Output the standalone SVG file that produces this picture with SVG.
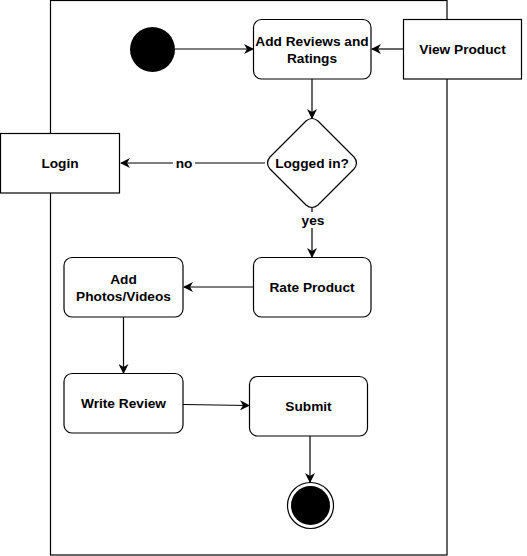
<svg xmlns="http://www.w3.org/2000/svg" width="527" height="556" viewBox="0 0 527 556">
<defs>
<style>
.box{fill:#fff;stroke:#000;stroke-width:1.2}
.t{font-family:"Liberation Sans",Arial,sans-serif;font-weight:bold;font-size:13.7px;text-anchor:middle;dominant-baseline:central;fill:#000}
.e{fill:none;stroke:#000;stroke-width:1.2}
</style>
<marker id="a" viewBox="0 0 10 10" refX="9" refY="5" markerWidth="10" markerHeight="10" markerUnits="userSpaceOnUse" orient="auto">
<path d="M0,0 L10,5 L0,10 L3,5 Z" fill="#000"/>
</marker>
</defs>
<rect width="527" height="556" fill="#fff"/>
<rect id="frame" x="50.5" y="0.5" width="396.5" height="554.5" fill="none" stroke="#000" stroke-width="1.2"/>
<g id="connectors">
<line class="e" x1="175" y1="49" x2="253" y2="49" marker-end="url(#a)"/>
<line class="e" x1="403" y1="49" x2="372" y2="49" marker-end="url(#a)"/>
<line class="e" x1="312" y1="79" x2="312" y2="118" marker-end="url(#a)"/>
<line class="e" x1="265" y1="163" x2="121" y2="163" marker-end="url(#a)"/>
<line class="e" x1="312" y1="208" x2="312" y2="257" marker-end="url(#a)"/>
<line class="e" x1="253" y1="287" x2="184" y2="287" marker-end="url(#a)"/>
<line class="e" x1="123.5" y1="317" x2="123.5" y2="373" marker-end="url(#a)"/>
<line class="e" x1="183" y1="404.5" x2="249" y2="405.5" marker-end="url(#a)"/>
<line class="e" x1="310" y1="436" x2="310" y2="482" marker-end="url(#a)"/>
<rect x="173" y="155" width="22" height="16" fill="#fff"/>
<text class="t" x="184" y="163">no</text>
<rect x="300" y="212" width="26" height="16" fill="#fff"/>
<text class="t" x="313" y="220">yes</text>
</g>
<g id="start"><circle cx="152.5" cy="49.5" r="22.5" fill="#000"/></g>
<g id="addReviews"><rect class="box" x="253.5" y="19.5" width="117.5" height="59.5" rx="8"/><text class="t" x="312" y="41">Add Reviews and</text><text class="t" x="312" y="58">Ratings</text></g>
<g id="viewProduct"><rect class="box" x="403.5" y="19.5" width="118" height="59.5"/><text class="t" x="462.5" y="49">View Product</text></g>
<g id="loggedIn"><path class="box" d="M306,121 Q312,116 318,121 L354,157 Q359,163 354,169 L318,205 Q312,210 306,205 L270,169 Q265,163 270,157 Z"/><text class="t" x="312" y="163">Logged in?</text></g>
<g id="login"><rect class="box" x="0.5" y="133.5" width="119" height="59.5"/><text class="t" x="60" y="163">Login</text></g>
<g id="rateProduct"><rect class="box" x="253.5" y="257.5" width="117.5" height="59.5" rx="8"/><text class="t" x="312" y="287">Rate Product</text></g>
<g id="addPhotos"><rect class="box" x="64" y="257.5" width="119" height="59.5" rx="8"/><text class="t" x="123.5" y="279">Add</text><text class="t" x="123.5" y="296">Photos/Videos</text></g>
<g id="writeReview"><rect class="box" x="64" y="373.5" width="119" height="59.5" rx="8"/><text class="t" x="123.5" y="403">Write Review</text></g>
<g id="submit"><rect class="box" x="249.5" y="376.5" width="118" height="59.5" rx="8"/><text class="t" x="308.5" y="406">Submit</text></g>
<g id="end"><circle cx="310.5" cy="505.5" r="23" fill="#fff" stroke="#000" stroke-width="1.2"/><circle cx="310.5" cy="505.5" r="19.5" fill="#000"/></g>
</svg>
